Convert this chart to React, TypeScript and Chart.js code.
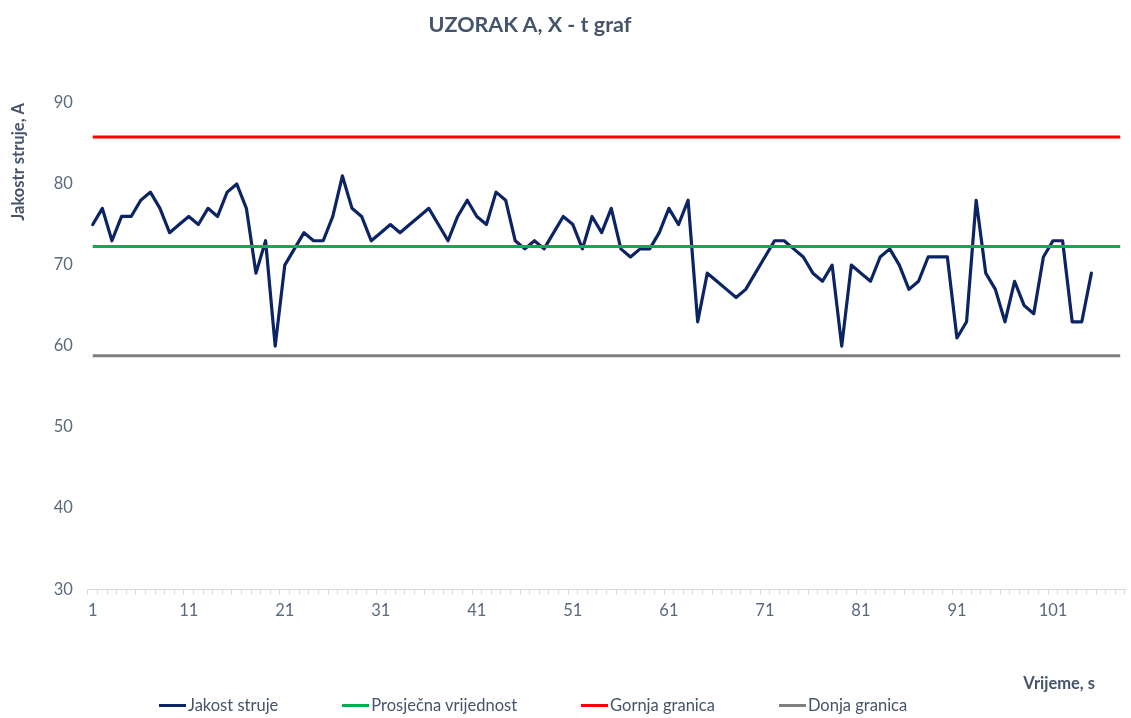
import React, { useEffect, useRef } from 'react';
import { Chart, registerables } from 'chart.js';

Chart.register(...registerables);

// ---- data ----
const categories: string[] = Array.from({ length: 108 }, (_, i) => String(i + 1));
const jakostStruje: number[] = [
  75, 77, 73, 76, 76, 78, 79, 77, 74, 75,
  76, 75, 77, 76, 79, 80, 77, 69, 73, 60,
  70, 72, 74, 73, 73, 76, 81, 77, 76, 73,
  74, 75, 74, 75, 76, 77, 75, 73, 76, 78,
  76, 75, 79, 78, 73, 72, 73, 72, 74, 76,
  75, 72, 76, 74, 77, 72, 71, 72, 72, 74,
  77, 75, 78, 63, 69, 68, 67, 66, 67, 69,
  71, 73, 73, 72, 71, 69, 68, 70, 60, 70,
  69, 68, 71, 72, 70, 67, 68, 71, 71, 71,
  61, 63, 78, 69, 67, 63, 68, 65, 64, 71,
  73, 73, 63, 63, 69,
];
const prosjecnaVrijednost = 72.3;
const gornjaGranica = 85.8;
const donjaGranica = 58.8;
const yTicks = { min: 30, max: 90, step: 10 };

const seriesNames = ['Jakost struje', 'Prosječna vrijednost', 'Gornja granica', 'Donja granica'];
const seriesColors = ['#0B2463', '#00B050', '#FF0000', '#7F7F7F'];

const FONT = 'Lato, "Open Sans", sans-serif';
const TEXT_DARK = '#44546A';
const TEXT_TICK = '#5A6A7E';

export default function App() {
  const canvasRef = useRef<HTMLCanvasElement | null>(null);

  useEffect(() => {
    document.body.style.margin = '0';
    const canvas = canvasRef.current;
    if (!canvas) return;
    const chart = new Chart(canvas, {
      type: 'line',
      data: {
        labels: categories,
        datasets: [
          {
            label: seriesNames[0],
            data: jakostStruje,
            borderColor: seriesColors[0],
            backgroundColor: seriesColors[0],
            borderWidth: 3.2,
            pointRadius: 0,
            tension: 0,
            borderJoinStyle: 'round',
            borderCapStyle: 'round',
            order: 1,
          },
          {
            label: seriesNames[1],
            data: categories.map(() => prosjecnaVrijednost),
            borderColor: seriesColors[1],
            backgroundColor: seriesColors[1],
            borderWidth: 3,
            pointRadius: 0,
            order: 0,
          },
          {
            label: seriesNames[2],
            data: categories.map(() => gornjaGranica),
            borderColor: seriesColors[2],
            backgroundColor: seriesColors[2],
            borderWidth: 3,
            pointRadius: 0,
            order: 0,
          },
          {
            label: seriesNames[3],
            data: categories.map(() => donjaGranica),
            borderColor: seriesColors[3],
            backgroundColor: seriesColors[3],
            borderWidth: 3,
            pointRadius: 0,
            order: 0,
          },
        ],
      },
      options: {
        responsive: false,
        animation: false,
        layout: { padding: { top: 103, right: 6, bottom: 90, left: 0 } },
        plugins: {
          legend: { display: false },
          title: { display: false },
          tooltip: { enabled: false },
        },
        scales: {
          x: {
            type: 'category',
            offset: true,
            grid: {
              display: true,
              offset: true,
              drawOnChartArea: false,
              drawTicks: true,
              tickLength: 5,
              color: '#D9D9D9',
            },
            border: { display: true, color: '#D9D9D9', width: 1 },
            ticks: {
              autoSkip: false,
              maxRotation: 0,
              minRotation: 0,
              padding: 7,
              color: TEXT_TICK,
              font: { family: FONT, size: 16.5 },
              callback: function (this: any, value: any, index: number) {
                return index % 10 === 0 ? this.getLabelForValue(value) : '';
              },
            },
          },
          y: {
            min: yTicks.min,
            max: yTicks.max,
            grid: { display: false, drawTicks: false },
            border: { display: false },
            ticks: {
              stepSize: yTicks.step,
              padding: 15,
              color: TEXT_TICK,
              font: { family: FONT, size: 16.5 },
            },
            title: {
              display: true,
              text: 'Jakostr struje, A',
              align: 'end',
              color: TEXT_DARK,
              font: { family: FONT, size: 16.5, weight: 'bold' },
              padding: { top: 9, bottom: 10 },
            },
          },
        },
      },
    });
    return () => chart.destroy();
  }, []);

  return (
    <div style={{ position: 'relative', width: 1131, height: 718, overflow: 'hidden', fontFamily: FONT }}>
      <canvas ref={canvasRef} width={1131} height={718} style={{ display: 'block', position: 'absolute', left: 0, top: 0 }} />
      <div
        style={{
          position: 'absolute', left: 0, width: 1060, top: 11, textAlign: 'center',
          fontSize: 21.5, lineHeight: '26px', fontWeight: 'bold', color: TEXT_DARK,
        }}
      >
        UZORAK A, X - t graf
      </div>
      <div
        style={{
          position: 'absolute', right: 36, top: 673, fontSize: 16.5, lineHeight: '20px',
          fontWeight: 'bold', color: TEXT_DARK,
        }}
      >
        Vrijeme, s
      </div>
      <div
        style={{
          position: 'absolute', left: 159, top: 695, display: 'flex', alignItems: 'center',
          gap: 64, fontSize: 16.5, lineHeight: '20px', color: TEXT_DARK, whiteSpace: 'nowrap',
        }}
      >
        {seriesNames.map((name, i) => (
          <div key={name} style={{ display: 'flex', alignItems: 'center' }}>
            <span style={{ display: 'inline-block', width: 27, height: 3, background: seriesColors[i], marginRight: 2 }} />
            <span>{name}</span>
          </div>
        ))}
      </div>
    </div>
  );
}
